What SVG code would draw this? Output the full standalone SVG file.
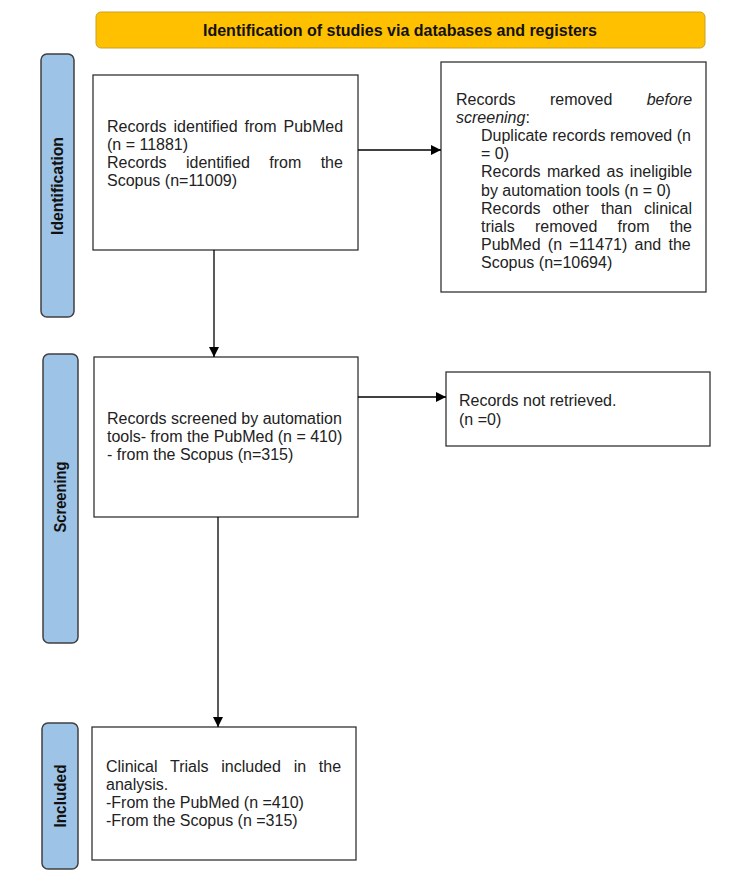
<svg xmlns="http://www.w3.org/2000/svg" width="750" height="884" viewBox="0 0 750 884">
<style>
.t{font-family:"Liberation Sans",Arial,sans-serif;font-size:16px;fill:#222}
.box{fill:#fff;stroke:#333;stroke-width:1.3}
.rail{fill:#9DC3E6;stroke:#404040;stroke-width:1.5}
.rl{font-family:"Liberation Sans",Arial,sans-serif;font-size:16px;font-weight:bold;fill:#111;text-anchor:middle}
.ln{stroke:#000;stroke-width:1.3;fill:none}
</style>
<defs>
<marker id="ah" viewBox="0 0 10 10" refX="10" refY="5" markerWidth="10" markerHeight="10" markerUnits="userSpaceOnUse" orient="auto">
<path d="M0,0 L10,5 L0,10 z" fill="#000"/>
</marker>
</defs>
<rect width="750" height="884" fill="#fff"/>

<g id="header">
<rect x="96" y="12" width="609" height="36" rx="5" fill="#FFC000" stroke="#C9A227" stroke-width="1"/>
<text x="400" y="36" class="t" style="font-weight:bold;font-size:16px;fill:#111" text-anchor="middle" textLength="394" lengthAdjust="spacingAndGlyphs">Identification of studies via databases and registers</text>
</g>

<g id="rail-identification">
<rect class="rail" x="41" y="54" width="33" height="263" rx="6"/>
<text class="rl" transform="translate(63,186) rotate(-90)" textLength="98" lengthAdjust="spacingAndGlyphs">Identification</text>
</g>
<g id="rail-screening">
<rect class="rail" x="43" y="354" width="35" height="289" rx="6"/>
<text class="rl" transform="translate(66,497) rotate(-90)" textLength="71" lengthAdjust="spacingAndGlyphs">Screening</text>
</g>
<g id="rail-included">
<rect class="rail" x="42" y="723" width="36" height="146" rx="6"/>
<text class="rl" transform="translate(66,796) rotate(-90)" textLength="63" lengthAdjust="spacingAndGlyphs">Included</text>
</g>

<g id="identified">
<rect class="box" x="93" y="75" width="265" height="175"/>
<text class="t" x="107" y="132" word-spacing="2.5">Records identified from PubMed</text>
<text class="t" x="107" y="150">(n = 11881)</text>
<text class="t" x="107" y="168" word-spacing="14.9">Records identified from the</text>
<text class="t" x="107" y="186">Scopus (n=11009)</text>
</g>

<g id="removed">
<rect class="box" x="441" y="62" width="265" height="230"/>
<text class="t" x="456" y="105" word-spacing="30">Records removed <tspan font-style="italic">before</tspan></text>
<text class="t" x="456" y="123"><tspan font-style="italic">screening</tspan>:</text>
<text class="t" x="481" y="141">Duplicate records removed (n</text>
<text class="t" x="481" y="159">= 0)</text>
<text class="t" x="481" y="177" word-spacing="1.9">Records marked as ineligible</text>
<text class="t" x="481" y="196">by automation tools (n = 0)</text>
<text class="t" x="481" y="214" word-spacing="7.5">Records other than clinical</text>
<text class="t" x="481" y="232" word-spacing="15.8">trials removed from the</text>
<text class="t" x="481" y="250" word-spacing="2.8">PubMed (n =11471) and the</text>
<text class="t" x="481" y="268">Scopus (n=10694)</text>
</g>

<g id="screened">
<rect class="box" x="94" y="357" width="264" height="160"/>
<text class="t" x="107" y="424">Records screened by automation</text>
<text class="t" x="107" y="442">tools- from the PubMed (n = 410)</text>
<text class="t" x="107" y="460">- from the Scopus (n=315)</text>
</g>

<g id="not-retrieved">
<rect class="box" x="446" y="372" width="264" height="74"/>
<text class="t" x="459" y="406">Records not retrieved.</text>
<text class="t" x="459" y="425">(n =0)</text>
</g>

<g id="included">
<rect class="box" x="92" y="727" width="264" height="133"/>
<text class="t" x="106" y="772" word-spacing="8.3">Clinical Trials included in the</text>
<text class="t" x="106" y="790">analysis.</text>
<text class="t" x="106" y="808">-From the PubMed (n =410)</text>
<text class="t" x="106" y="826">-From the Scopus (n =315)</text>
</g>

<g id="connectors">
<line class="ln" x1="214" y1="250" x2="214" y2="357" marker-end="url(#ah)"/>
<line class="ln" x1="358" y1="150" x2="441" y2="150" marker-end="url(#ah)"/>
<line class="ln" x1="358" y1="397" x2="446" y2="397" marker-end="url(#ah)"/>
<line class="ln" x1="218" y1="517" x2="218" y2="727" marker-end="url(#ah)"/>
</g>
</svg>
